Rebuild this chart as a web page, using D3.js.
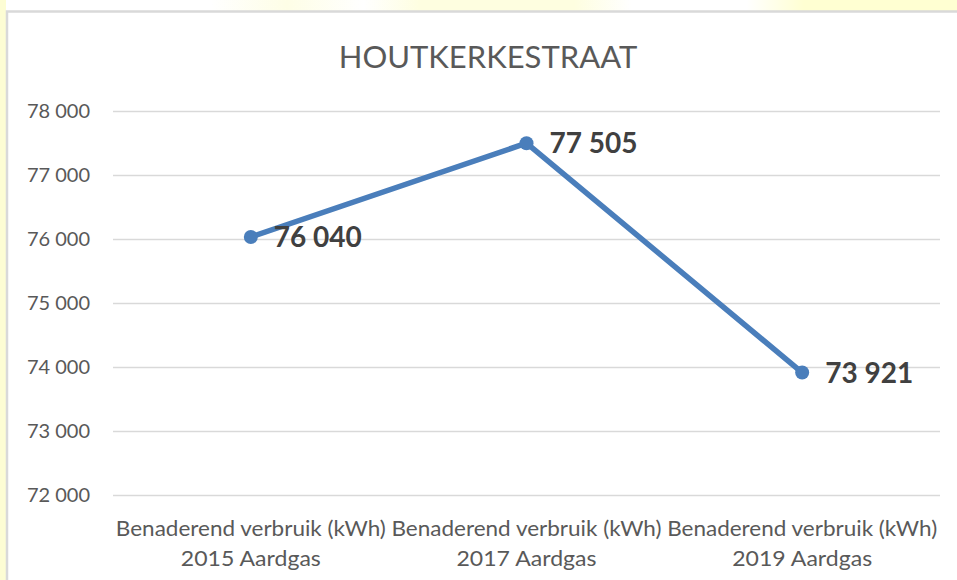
<!DOCTYPE html>
<html>
<head>
<meta charset="utf-8">
<script src="https://cdn.jsdelivr.net/npm/d3@7"></script>
<style>
  body { margin: 0; background: #fff; }
  svg { display: block; }
</style>
</head>
<body>
<div id="graphique"></div>
<script>
// Données
const title = "HOUTKERKESTRAAT"
const categories = ["2015", "2017", "2019"]
const catLine1 = ["Benaderend verbruik (kWh)", "Benaderend verbruik (kWh)", "Benaderend verbruik (kWh)"]
const catLine2 = ["2015 Aardgas", "2017 Aardgas", "2019 Aardgas"]
const values = [76040, 77505, 73921]
const valueLabels = ["76 040", "77 505", "73 921"]
const yTicks = [72000, 73000, 74000, 75000, 76000, 77000, 78000]

const W = 957, H = 580
const fmt = d => d3.format(",")(d).replace(",", " ")

let svg = d3.select("#graphique")
    .append("svg")
    .attr("width", W)
    .attr("height", H)

// fond jaunâtre autour du graphique
let grad = svg.append("defs").append("linearGradient")
    .attr("id", "topYellow")
grad.append("stop").attr("offset", "0%").attr("stop-color", "#ffffff")
grad.append("stop").attr("offset", "22%").attr("stop-color", "#ffffff")
grad.append("stop").attr("offset", "30%").attr("stop-color", "#fefee6")
grad.append("stop").attr("offset", "38%").attr("stop-color", "#ffffff")
grad.append("stop").attr("offset", "44%").attr("stop-color", "#fefee0")
grad.append("stop").attr("offset", "60%").attr("stop-color", "#fefee0")
grad.append("stop").attr("offset", "66%").attr("stop-color", "#ffffff")
grad.append("stop").attr("offset", "78%").attr("stop-color", "#ffffff")
grad.append("stop").attr("offset", "84%").attr("stop-color", "#ffffd2")
grad.append("stop").attr("offset", "100%").attr("stop-color", "#ffffd2")

svg.append("rect").attr("x", 0).attr("y", 0).attr("width", W).attr("height", 11)
    .attr("fill", "url(#topYellow)")
svg.append("rect").attr("x", 0).attr("y", 0).attr("width", 6).attr("height", H)
    .attr("fill", "#fdfdd4")

// Zone du graphique
svg.append("rect")
    .attr("x", 7).attr("y", 11.5)
    .attr("width", W + 20).attr("height", H + 20)
    .attr("fill", "#ffffff")
    .attr("stroke", "#d9d9d9")
    .attr("stroke-width", 2.5)

// Echelles
let x = d3.scalePoint()
    .domain(categories)
    .range([113, 940])
    .padding(0.5)

let y = d3.scaleLinear()
    .domain([72000, 78000])
    .range([495.5, 111.5])

// Titre
svg.append("text")
    .attr("x", 488)
    .attr("y", 68)
    .attr("text-anchor", "middle")
    .style("font-family", "Lato, 'Open Sans', sans-serif")
    .style("font-size", "31px")
    .style("fill", "#595959")
    .text(title)

// Grille
svg.append("g")
    .selectAll("line")
    .data(yTicks)
    .join("line")
    .attr("x1", 113).attr("x2", 940)
    .attr("y1", d => y(d)).attr("y2", d => y(d))
    .attr("stroke", "#d9d9d9")
    .attr("stroke-width", 1.5)

// Axe y
let yAxis = svg.append("g")
    .attr("transform", "translate(96,0)")
    .call(d3.axisLeft(y).tickValues(yTicks).tickSize(0).tickPadding(6).tickFormat(fmt))
yAxis.select(".domain").remove()
yAxis.selectAll("text")
    .style("font-family", "Lato, sans-serif")
    .style("font-size", "20px")
    .style("fill", "#595959")

// Axe x (catégories sur deux lignes)
let xLab = svg.append("g")
    .selectAll("text")
    .data(categories)
    .join("text")
    .attr("text-anchor", "middle")
    .style("font-family", "Lato, sans-serif")
    .style("font-size", "22px")
    .style("fill", "#595959")
xLab.append("tspan")
    .attr("x", d => x(d)).attr("y", 536)
    .attr("textLength", 270)
    .attr("lengthAdjust", "spacingAndGlyphs")
    .text((d, i) => catLine1[i])
xLab.append("tspan")
    .attr("x", d => x(d)).attr("y", 566)
    .attr("textLength", 140)
    .attr("lengthAdjust", "spacingAndGlyphs")
    .text((d, i) => catLine2[i])

// Ligne
let line = d3.line()
    .x((d, i) => x(categories[i]))
    .y(d => y(d))

svg.append("path")
    .datum(values)
    .attr("d", line)
    .attr("fill", "none")
    .attr("stroke", "#4a7ebb")
    .attr("stroke-width", 5.5)
    .attr("stroke-linejoin", "round")
    .attr("stroke-linecap", "round")

svg.append("g")
    .selectAll("circle")
    .data(values)
    .join("circle")
    .attr("cx", (d, i) => x(categories[i]))
    .attr("cy", d => y(d))
    .attr("r", 7)
    .attr("fill", "#4a7ebb")

// Etiquettes de valeurs
svg.append("g")
    .selectAll("text")
    .data(values)
    .join("text")
    .attr("x", (d, i) => x(categories[i]) + 23)
    .attr("y", d => y(d) + 10)
    .style("font-family", "Lato, sans-serif")
    .style("font-weight", "bold")
    .style("font-size", "28px")
    .style("fill", "#404040")
    .text((d, i) => valueLabels[i])
</script>
</body>
</html>
